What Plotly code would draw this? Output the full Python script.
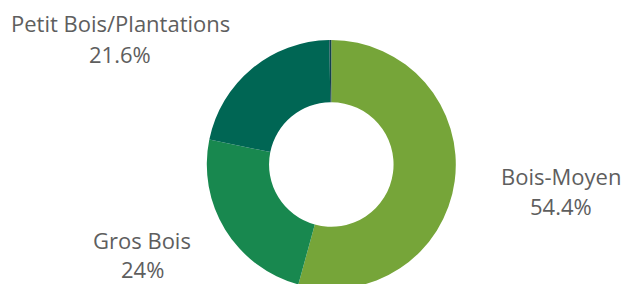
import plotly.graph_objects as go

categories = ["Bois-Moyen", "Gros Bois", "Petit Bois/Plantations", "Autre"]
values = [54.4, 24.0, 21.6, 0.25]
pct_labels = ["54.4%", "24%", "21.6%", ""]
colors = ["#76A539", "#18884F", "#006654", "#123F4F"]

W, H = 621, 289
font_family = "Open Sans"
font_size = 22
text_color = "#5E5E5E"

fig = go.Figure(go.Pie(
    labels=categories,
    values=values,
    hole=0.5,
    sort=False,
    direction="clockwise",
    rotation=0,
    textinfo="none",
    hoverinfo="label+percent",
    marker=dict(colors=colors, line=dict(width=0)),
    domain=dict(x=[201.3 / W, 461.3 / W], y=[0.0, 249.0 / H]),
    showlegend=False,
))

# label placement (pixel centers in the figure)
label_pos = {
    "Bois-Moyen": (561, 175.5, 205.5),
    "Gros Bois": (142, 239.5, 268.5),
    "Petit Bois/Plantations": (120, 23, 54),
}
annotations = []
for cat, pct in zip(categories, pct_labels):
    if cat not in label_pos:
        continue
    x, y1, y2 = label_pos[cat]
    for txt, yy in ((cat, y1), (pct, y2)):
        annotations.append(dict(
            text=txt, x=x / W, y=1 - yy / H, xref="paper", yref="paper",
            xanchor="center", yanchor="middle", showarrow=False,
            font=dict(family=font_family, size=font_size, color=text_color),
        ))

fig.update_layout(
    width=W, height=H,
    margin=dict(l=0, r=0, t=0, b=0),
    paper_bgcolor="white", plot_bgcolor="white",
    annotations=annotations,
)

fig.write_html(
    "out.html",
    config={"displayModeBar": False},
    post_script="document.body.style.margin='0';document.body.style.overflow='hidden';",
)
